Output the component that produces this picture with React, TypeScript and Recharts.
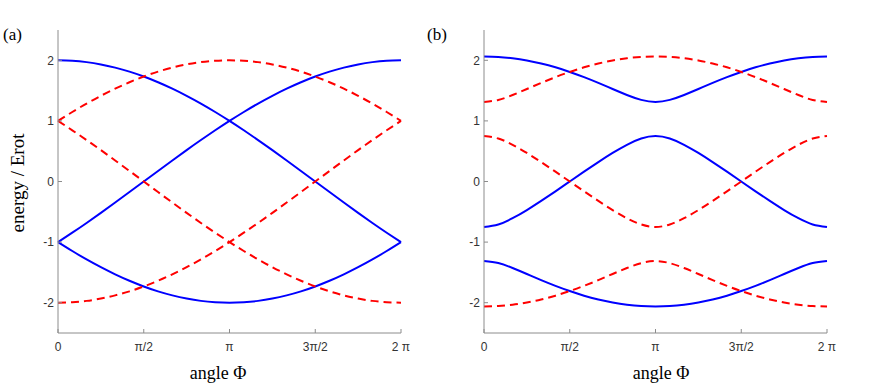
import React from 'react';
import { LineChart, Line, XAxis, YAxis } from 'recharts';

// angle Φ in degrees, 15° steps from 0 to 2π
const PHI = [0, 15, 30, 45, 60, 75, 90, 105, 120, 135, 150, 165, 180, 195, 210, 225, 240, 255, 270, 285, 300, 315, 330, 345, 360];

const X_TICKS = [0, 90, 180, 270, 360];
const X_LABELS = ['0', 'π/2', 'π', '3π/2', '2 π'];
const Y_TICKS = [-2, -1, 0, 1, 2];

// panel (a)
const A_BLUE_1 = [2, 1.992, 1.97, 1.932, 1.879, 1.813, 1.732, 1.638, 1.532, 1.414, 1.286, 1.147, 1.0, 0.845, 0.684, 0.518, 0.347, 0.174, 0, -0.174, -0.347, -0.518, -0.684, -0.845, -1.0];
const A_BLUE_2 = [-1.0, -0.845, -0.684, -0.518, -0.347, -0.174, 0, 0.174, 0.347, 0.518, 0.684, 0.845, 1.0, 1.147, 1.286, 1.414, 1.532, 1.638, 1.732, 1.813, 1.879, 1.932, 1.97, 1.992, 2.0];
const A_BLUE_3 = [-1.0, -1.147, -1.286, -1.414, -1.532, -1.638, -1.732, -1.813, -1.879, -1.932, -1.97, -1.992, -2.0, -1.992, -1.97, -1.932, -1.879, -1.813, -1.732, -1.638, -1.532, -1.414, -1.286, -1.147, -1.0];
const A_RED_1 = [-2, -1.992, -1.97, -1.932, -1.879, -1.813, -1.732, -1.638, -1.532, -1.414, -1.286, -1.147, -1.0, -0.845, -0.684, -0.518, -0.347, -0.174, 0, 0.174, 0.347, 0.518, 0.684, 0.845, 1.0];
const A_RED_2 = [1.0, 0.845, 0.684, 0.518, 0.347, 0.174, 0, -0.174, -0.347, -0.518, -0.684, -0.845, -1.0, -1.147, -1.286, -1.414, -1.532, -1.638, -1.732, -1.813, -1.879, -1.932, -1.97, -1.992, -2.0];
const A_RED_3 = [1.0, 1.147, 1.286, 1.414, 1.532, 1.638, 1.732, 1.813, 1.879, 1.932, 1.97, 1.992, 2.0, 1.992, 1.97, 1.932, 1.879, 1.813, 1.732, 1.638, 1.532, 1.414, 1.286, 1.147, 1.0];

// panel (b)
const B_BLUE_1 = [2.063, 2.055, 2.033, 1.997, 1.947, 1.884, 1.808, 1.722, 1.627, 1.526, 1.428, 1.347, 1.313, 1.347, 1.428, 1.526, 1.627, 1.722, 1.808, 1.884, 1.947, 1.997, 2.033, 2.055, 2.063];
const B_BLUE_2 = [-0.75, -0.709, -0.606, -0.471, -0.32, -0.162, 0, 0.162, 0.32, 0.471, 0.606, 0.709, 0.75, 0.709, 0.606, 0.471, 0.32, 0.162, 0, -0.162, -0.32, -0.471, -0.606, -0.709, -0.75];
const B_BLUE_3 = [-1.313, -1.346, -1.427, -1.526, -1.627, -1.722, -1.808, -1.884, -1.947, -1.997, -2.034, -2.056, -2.062, -2.056, -2.034, -1.997, -1.947, -1.884, -1.808, -1.722, -1.627, -1.526, -1.427, -1.346, -1.313];
const B_RED_1 = [1.313, 1.346, 1.427, 1.526, 1.627, 1.722, 1.808, 1.884, 1.947, 1.997, 2.034, 2.056, 2.062, 2.056, 2.034, 1.997, 1.947, 1.884, 1.808, 1.722, 1.627, 1.526, 1.427, 1.346, 1.313];
const B_RED_2 = [0.75, 0.709, 0.606, 0.471, 0.32, 0.162, 0, -0.162, -0.32, -0.471, -0.606, -0.709, -0.75, -0.709, -0.606, -0.471, -0.32, -0.162, 0, 0.162, 0.32, 0.471, 0.606, 0.709, 0.75];
const B_RED_3 = [-2.063, -2.055, -2.033, -1.997, -1.947, -1.884, -1.808, -1.722, -1.627, -1.526, -1.428, -1.347, -1.313, -1.347, -1.428, -1.526, -1.627, -1.722, -1.808, -1.884, -1.947, -1.997, -2.033, -2.055, -2.063];

const BLUE = '#0000ff';
const RED = '#ff0000';
const AXIS = '#8c8c8c';
const TICK_STYLE = { fill: '#333', fontSize: 12, fontFamily: '"Liberation Sans", Arial, sans-serif' };
const SERIF = '"Liberation Serif", "Times New Roman", serif';

const build = (blue: number[][], red: number[][]) =>
  PHI.map((p, i) => ({
    phi: p,
    b1: blue[0][i], b2: blue[1][i], b3: blue[2][i],
    r1: red[0][i], r2: red[1][i], r3: red[2][i],
  }));

const dataA = build([A_BLUE_1, A_BLUE_2, A_BLUE_3], [A_RED_1, A_RED_2, A_RED_3]);
const dataB = build([B_BLUE_1, B_BLUE_2, B_BLUE_3], [B_RED_1, B_RED_2, B_RED_3]);

function Panel({ data, left }: { data: any[]; left: number }) {
  return (
    <div style={{ position: 'absolute', left, top: 0 }}>
      <LineChart width={430} height={387} data={data} margin={{ top: 30, right: 29, bottom: 24, left: 18 }}>
        <XAxis
          xAxisId="b" dataKey="phi" type="number" domain={[0, 360]} ticks={X_TICKS}
          tickFormatter={(v: number) => X_LABELS[X_TICKS.indexOf(v)]}
          stroke={AXIS} tickSize={-4} tickMargin={13} height={30} tick={TICK_STYLE}
        />
        <XAxis
          xAxisId="t" orientation="top" dataKey="phi" type="number" domain={[0, 360]} ticks={X_TICKS}
          stroke="#b8b8b8" tickSize={-4} tick={false} height={0}
        />
        <YAxis
          yAxisId="l" type="number" domain={[-2.5, 2.5]} ticks={Y_TICKS} allowDataOverflow
          stroke={AXIS} tickSize={-4} tickMargin={8} width={40} tick={TICK_STYLE}
        />
        <YAxis
          yAxisId="r" orientation="right" type="number" domain={[-2.5, 2.5]} ticks={Y_TICKS} allowDataOverflow
          stroke={AXIS} tickSize={-4} tick={false} width={0}
        />
        {['b1', 'b2', 'b3'].map((k) => (
          <Line key={k} xAxisId="b" yAxisId="l" type="natural" dataKey={k} stroke={BLUE} strokeWidth={2} dot={false} isAnimationActive={false} />
        ))}
        {['r1', 'r2', 'r3'].map((k) => (
          <Line key={k} xAxisId="b" yAxisId="l" type="natural" dataKey={k} stroke={RED} strokeWidth={2} strokeDasharray="8 5" dot={false} isAnimationActive={false} />
        ))}
      </LineChart>
    </div>
  );
}

const labelStyle: React.CSSProperties = {
  position: 'absolute', fontFamily: SERIF, color: '#000', whiteSpace: 'nowrap',
};

export default function App() {
  return (
    <div style={{ position: 'absolute', left: 0, top: 0, width: 872, height: 387, background: '#fff', overflow: 'hidden' }}>
      <Panel data={dataA} left={0} />
      <Panel data={dataB} left={426} />
      <div style={{ ...labelStyle, left: 3, top: 25, fontSize: 17 }}>(a)</div>
      <div style={{ ...labelStyle, left: 427, top: 25, fontSize: 17 }}>(b)</div>
      <div style={{ ...labelStyle, left: 218, top: 373, fontSize: 18, transform: 'translate(-50%, -50%)' }}>angle Φ</div>
      <div style={{ ...labelStyle, left: 661, top: 373, fontSize: 18, transform: 'translate(-50%, -50%)' }}>angle Φ</div>
      <div style={{ ...labelStyle, left: 18, top: 183, fontSize: 19, transform: 'translate(-50%, -50%) rotate(-90deg)' }}>energy / Erot</div>
    </div>
  );
}
